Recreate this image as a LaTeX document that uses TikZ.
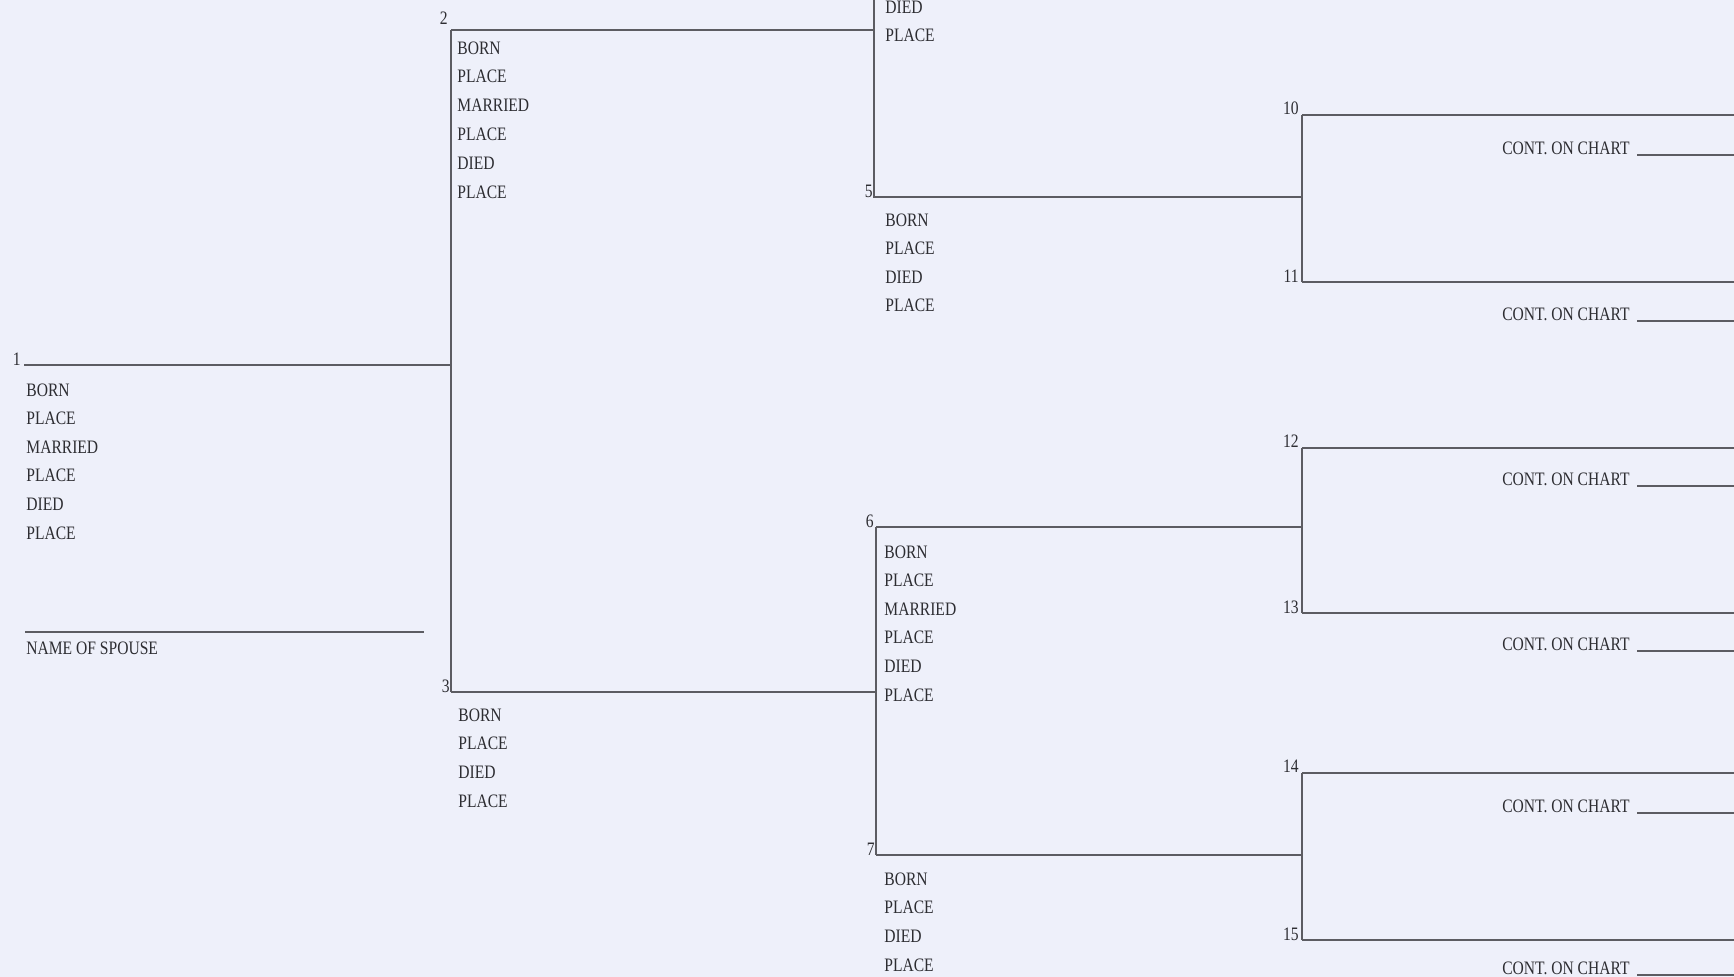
\documentclass[tikz,border=0pt]{standalone}
\usepackage{fontspec}
\setmainfont{Liberation Serif}[FakeStretch=0.82]
\definecolor{bg}{RGB}{238,240,250}
\definecolor{ink}{RGB}{45,45,50}
\definecolor{rulec}{RGB}{92,92,98}
\begin{document}
\begin{tikzpicture}[x=0.5pt,y=-0.5pt,
  ln/.style={draw=rulec,line width=0.9pt},
  lbl/.style={font=\fontsize{9.5}{10}\selectfont,text=ink,inner sep=0pt,anchor=west},
  cont/.style={font=\fontsize{9.5}{10}\selectfont,text=ink,inner sep=0pt,anchor=east},
  num/.style={font=\fontsize{9.5}{10}\selectfont,text=ink,inner sep=0pt,anchor=south east}]
\useasboundingbox (0,0) rectangle (1734,977);
\fill[bg] (0,0) rectangle (1734,977);
\clip (0,0) rectangle (1734,977);

% ---- coordinates of line ends
\coordinate (l1a) at (24,365);   \coordinate (l1b) at (451,365);
\coordinate (spa) at (25,632);   \coordinate (spb) at (424,632);
\coordinate (l2a) at (451,30);   \coordinate (l2b) at (874,30);
\coordinate (l3a) at (451,692);  \coordinate (l3b) at (876,692);
\coordinate (l4a) at (874,-137);
\coordinate (l5a) at (874,197);  \coordinate (l5b) at (1302,197);
\coordinate (l6a) at (876,527);  \coordinate (l6b) at (1302,527);
\coordinate (l7a) at (876,855);  \coordinate (l7b) at (1302,855);
\coordinate (l10a) at (1302,115); \coordinate (l10b) at (1734,115);
\coordinate (l11a) at (1302,282); \coordinate (l11b) at (1734,282);
\coordinate (l12a) at (1302,448); \coordinate (l12b) at (1734,448);
\coordinate (l13a) at (1302,613); \coordinate (l13b) at (1734,613);
\coordinate (l14a) at (1302,773); \coordinate (l14b) at (1734,773);
\coordinate (l15a) at (1302,940); \coordinate (l15b) at (1734,940);

% ---- lines
\draw[ln] (l1a) -- (l1b);
\draw[ln] (spa) -- (spb);
\draw[ln] (l2a) -- (l2b);
\draw[ln] (l3a) -- (l3b);
\draw[ln] (l2a) -- (l3a);
\draw[ln] (l4a) -- (l5a) -- (l5b);
\draw[ln] (l6a) -- (l7a);
\draw[ln] (l6a) -- (l6b);
\draw[ln] (l7a) -- (l7b);
\draw[ln] (l10a) -- (l11a);
\draw[ln] (l12a) -- (l13a);
\draw[ln] (l14a) -- (l15a);
\foreach \k in {10,...,15} \draw[ln] (l\k a) -- (l\k b);

% ---- numbers
\node[num] (n1) at (21,366) {1};
\node[num] (n2) at (448,25) {2};
\node[num] (n3) at (450,693) {3};
\node[num] (n5) at (873,198) {5};
\node[num] (n6) at (874,528) {6};
\node[num] (n7) at (875,856) {7};
\node[num] (n10) at (1299,115) {10};
\node[num] (n11) at (1299,283) {11};
\node[num] (n12) at (1299,448) {12};
\node[num] (n13) at (1299,614) {13};
\node[num] (n14) at (1299,773) {14};
\node[num] (n15) at (1299,941) {15};

% ---- person texts
\foreach \t [count=\i] in {BORN,PLACE,MARRIED,PLACE,DIED,PLACE}
  \node[lbl] (p1t\i) at (26,{390+28.6*(\i-1)}) {\t};
\node[lbl] (spouse) at (26,648) {NAME OF SPOUSE};
\foreach \t [count=\i] in {BORN,PLACE,MARRIED,PLACE,DIED,PLACE}
  \node[lbl] (p2t\i) at (457,{48+28.8*(\i-1)}) {\t};
\foreach \t [count=\i] in {BORN,PLACE,DIED,PLACE}
  \node[lbl] (p3t\i) at (458,{715+28.8*(\i-1)}) {\t};
\node[lbl] (p4t5) at (885,7) {DIED};
\node[lbl] (p4t6) at (885,35) {PLACE};
\foreach \t [count=\i] in {BORN,PLACE,DIED,PLACE}
  \node[lbl] (p5t\i) at (885,{220+28.6*(\i-1)}) {\t};
\foreach \t [count=\i] in {BORN,PLACE,MARRIED,PLACE,DIED,PLACE}
  \node[lbl] (p6t\i) at (884,{552+28.6*(\i-1)}) {\t};
\foreach \t [count=\i] in {BORN,PLACE,DIED,PLACE}
  \node[lbl] (p7t\i) at (884,{879+28.8*(\i-1)}) {\t};

% ---- continuation notes
\foreach \k/\yy in {10/148,11/314,12/479,13/644,14/806,15/968}{
  \node[cont] (c\k) at (1630,\yy) {CONT. ON CHART};
  \coordinate (u\k a) at (1637,\yy+7);
  \coordinate (u\k b) at (1734,\yy+7);
  \draw[ln,line width=0.7pt] (u\k a) -- (u\k b);
}
\end{tikzpicture}
\end{document}
